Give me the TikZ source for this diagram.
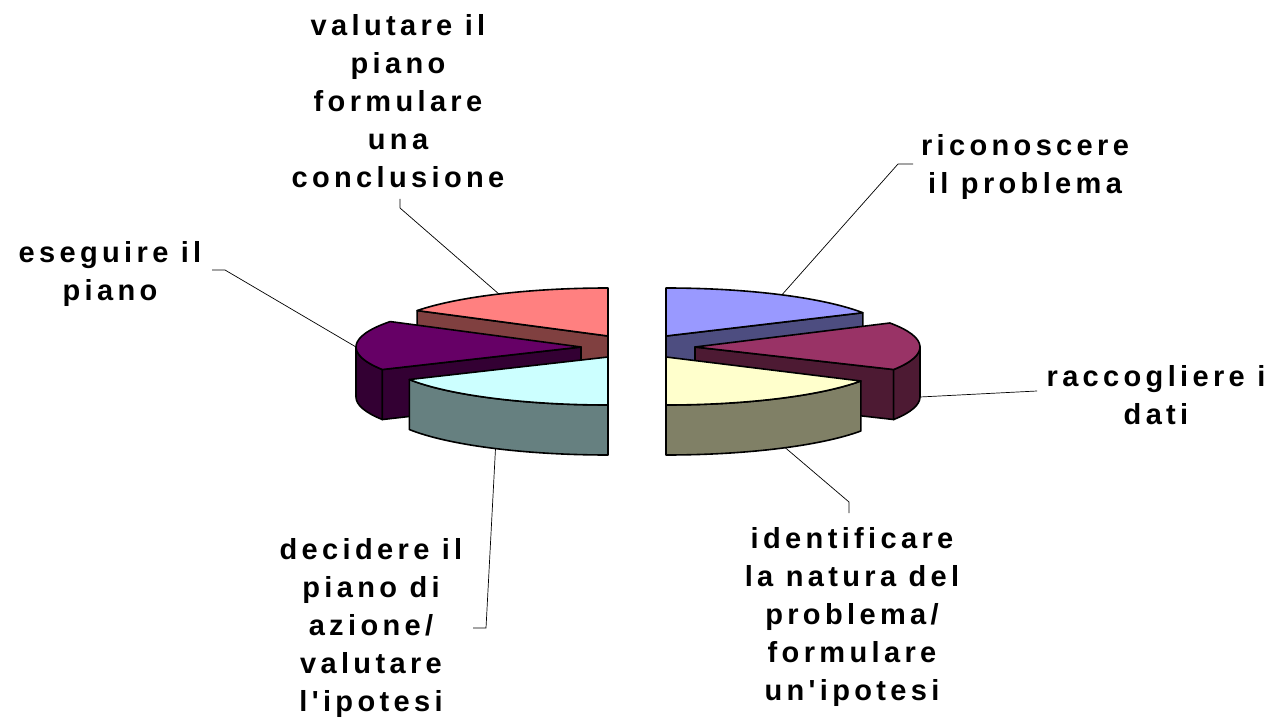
\documentclass[tikz,border=0pt]{standalone}
\usepackage{fontspec}
\newfontfamily\lblfont{Liberation Sans}[LetterSpace=15]
\usepackage{tikz}

\definecolor{pinktop}{HTML}{FF8080}
\definecolor{pinkside}{HTML}{804040}
\definecolor{plumtop}{HTML}{660066}
\definecolor{plumside}{HTML}{330033}
\definecolor{icetop}{HTML}{CCFFFF}
\definecolor{iceside}{HTML}{668080}
\definecolor{bluetop}{HTML}{9999FF}
\definecolor{blueside}{HTML}{4D4D80}
\definecolor{winetop}{HTML}{993366}
\definecolor{wineside}{HTML}{4D1A33}
\definecolor{creamtop}{HTML}{FFFFCC}
\definecolor{creamside}{HTML}{808066}

\tikzset{
  slice/.style={draw=black, line width=1.6pt, line join=round},
  leader/.style={draw=black, line width=0.7pt},
  lbl/.style={font=\lblfont\bfseries\fontsize{29}{38}\selectfont, align=center, inner sep=0pt},
}

\begin{document}
\begin{tikzpicture}[x=1pt, y=1pt, x radius=225pt, y radius=48pt]
\useasboundingbox (0,0) rectangle (1274,-719);
%%%%% left half %%%%%
\begin{scope}[shift={(608,-336)}]
\draw[slice, fill=pinkside] (0,0) -- (148:225pt and 48pt) -- ++(0,-50) -- (0,-50) -- cycle;
\draw[slice, fill=pinktop] (0,0) -- (90:225pt and 48pt) arc[start angle=90, end angle=148] -- cycle;
\coordinate (pvalutare) at (119:225pt and 48pt);
\end{scope}
\begin{scope}[shift={(581,-347)}]
\draw[slice, fill=plumside] (180:225pt and 48pt) arc[start angle=180, end angle=208] -- ++(0,-50) arc[start angle=208, end angle=180] -- cycle;
\draw[slice, fill=plumside] (0,0) -- (208:225pt and 48pt) -- ++(0,-50) -- (0,-50) -- cycle;
\draw[slice, fill=plumtop] (0,0) -- (148:225pt and 48pt) arc[start angle=148, end angle=208] -- cycle;
\coordinate (peseguire) at (180:225pt and 48pt);
\end{scope}
\begin{scope}[shift={(608,-357)}]
\draw[slice, fill=iceside] (208:225pt and 48pt) arc[start angle=208, end angle=270] -- ++(0,-50) arc[start angle=270, end angle=208] -- cycle;
\draw[slice, fill=icetop] (0,0) -- (208:225pt and 48pt) arc[start angle=208, end angle=270] -- cycle;
\path (240:225pt and 48pt) ++(0,-50) coordinate (pdecidere);
\end{scope}
%%%%% right half %%%%%
\begin{scope}[shift={(666,-336)}]
\draw[slice, fill=blueside] (0,0) -- (29:225pt and 48pt) -- ++(0,-50) -- (0,-50) -- cycle;
\draw[slice, fill=bluetop] (0,0) -- (29:225pt and 48pt) arc[start angle=29, end angle=90] -- cycle;
\coordinate (priconoscere) at (59:225pt and 48pt);
\end{scope}
\begin{scope}[shift={(695,-347)}]
\draw[slice, fill=wineside] (0,0) -- (-28:225pt and 48pt) -- ++(0,-50) -- (0,-50) -- cycle;
\draw[slice, fill=wineside] (-28:225pt and 48pt) arc[start angle=-28, end angle=0] -- ++(0,-50) arc[start angle=0, end angle=-28] -- cycle;
\draw[slice, fill=winetop] (0,0) -- (-28:225pt and 48pt) arc[start angle=-28, end angle=30] -- cycle;
\path (0:225pt and 48pt) ++(0,-50) coordinate (praccogliere);
\end{scope}
\begin{scope}[shift={(666,-357)}]
\draw[slice, fill=creamside] (-90:225pt and 48pt) arc[start angle=-90, end angle=-30] -- ++(0,-50) arc[start angle=-30, end angle=-90] -- cycle;
\draw[slice, fill=creamtop] (0,0) -- (-90:225pt and 48pt) arc[start angle=-90, end angle=-30] -- cycle;
\path (-58:225pt and 48pt) ++(0,-50) coordinate (pidentificare);
\end{scope}
%%%%% labels %%%%%
\node[lbl] (lblvalutare) at (398,-101) {valutare il\\piano\\formulare\\una\\conclusione};
\node[lbl] (lblriconoscere) at (1025,-167) {riconoscere\\il problema};
\node[lbl] (lbleseguire) at (110,-274) {eseguire il\\piano};
\node[lbl] (lblraccogliere) at (1156,-395) {raccogliere i\\dati};
\node[lbl] (lbldecidere) at (371,-628) {decidere il\\piano di\\azione/\\valutare\\l'ipotesi};
\node[lbl] (lblidentificare) at (852,-617) {identificare\\la natura del\\problema/\\formulare\\un'ipotesi};
%%%%% leaders %%%%%
\coordinate (evalutare) at (400,-199);   \coordinate (kvalutare) at (400,-208);
\coordinate (eeseguire) at (212,-270);   \coordinate (keseguire) at (225,-270);
\coordinate (ericonoscere) at (913,-164); \coordinate (kriconoscere) at (898,-164);
\coordinate (eraccogliere) at (1037,-391); \coordinate (kraccogliere) at (1037,-391);
\coordinate (edecidere) at (473,-628);   \coordinate (kdecidere) at (486,-628);
\coordinate (eidentificare) at (849,-513); \coordinate (kidentificare) at (849,-502);
\foreach \n in {valutare,eseguire,riconoscere,raccogliere,decidere,identificare}{
\draw[leader] (e\n) -- (k\n) -- (p\n);
}
\end{tikzpicture}
\end{document}
